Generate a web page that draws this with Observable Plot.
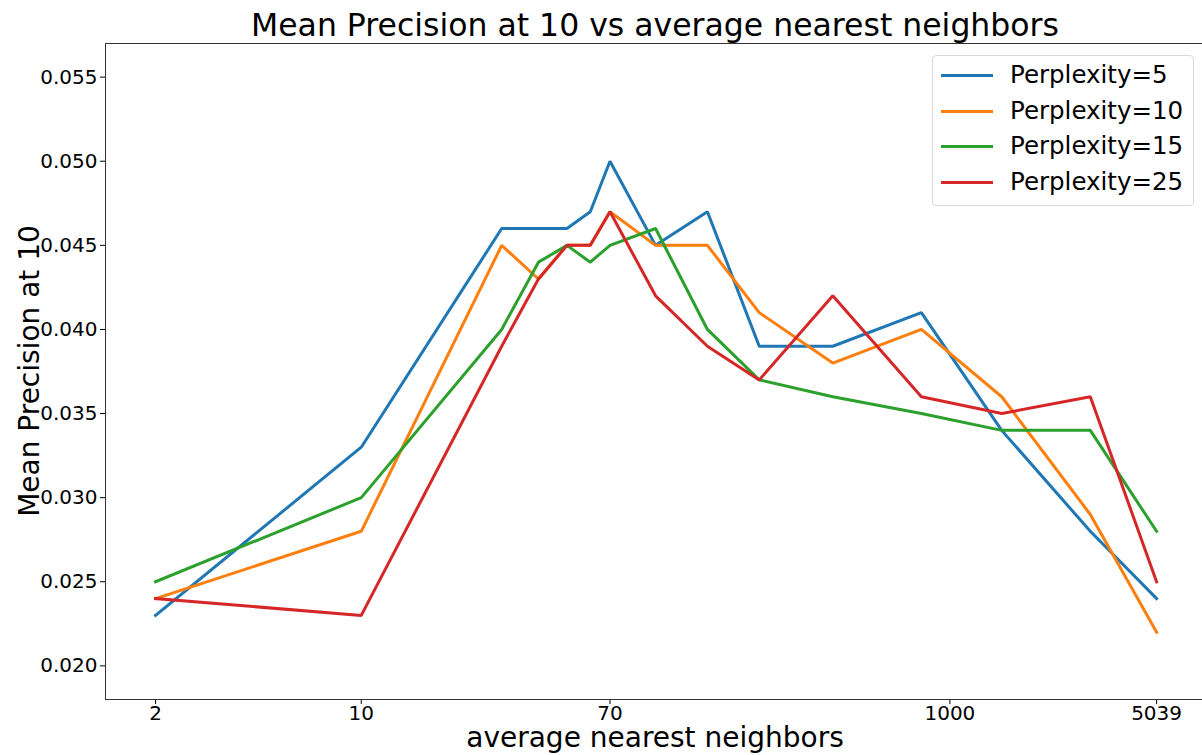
<!DOCTYPE html>
<html>
<head>
<meta charset="utf-8">
<script src="https://cdn.jsdelivr.net/npm/d3@7"></script>
<script src="https://cdn.jsdelivr.net/npm/@observablehq/plot@0.6"></script>
<style>
  html, body { margin: 0; padding: 0; background: #fff; }
  #wrap { position: relative; width: 1202px; height: 755px; font-family: "DejaVu Sans", sans-serif; overflow: hidden; }
  .ov { position: absolute; white-space: nowrap; color: #000; }
  #legend { position: absolute; left: 932px; top: 55px; width: 260px; height: 149px; border: 1px solid #d9d9d9; border-radius: 4px; background: rgba(255,255,255,0.85); }
  .lrow { position: absolute; left: 0; height: 30px; }
  .lline { position: absolute; left: 8px; width: 52px; height: 3px; top: 14px; }
  .ltext { position: absolute; left: 77px; top: 0; font-size: 24.5px; line-height: 30px; }
</style>
</head>
<body>
<div id="wrap"></div>
<script>
const neighbors = [2, 10, 30, 40, 50, 60, 70, 100, 150, 225, 400, 800, 1500, 3000, 5039];
const perp5  = [0.023, 0.033, 0.046, 0.046, 0.046, 0.047, 0.050, 0.045, 0.047, 0.039, 0.039, 0.041, 0.034, 0.028, 0.024];
const perp10 = [0.024, 0.028, 0.045, 0.043, 0.045, 0.045, 0.047, 0.045, 0.045, 0.041, 0.038, 0.040, 0.036, 0.029, 0.022];
const perp15 = [0.025, 0.030, 0.040, 0.044, 0.045, 0.044, 0.045, 0.046, 0.040, 0.037, 0.036, 0.035, 0.034, 0.034, 0.028];
const perp25 = [0.024, 0.023, 0.039, 0.043, 0.045, 0.045, 0.047, 0.042, 0.039, 0.037, 0.042, 0.036, 0.035, 0.036, 0.025];
const seriesNames = ["Perplexity=5", "Perplexity=10", "Perplexity=15", "Perplexity=25"];
const seriesValues = [perp5, perp10, perp15, perp25];
const colors = ["#1f77b4", "#ff7f0e", "#2ca02c", "#d62728"];
const xTicks = [2, 10, 70, 1000, 5039];
const xTickLabels = ["2", "10", "70", "1000", "5039"];
const yTicks = [0.020, 0.025, 0.030, 0.035, 0.040, 0.045, 0.050, 0.055];

const data = [];
seriesNames.forEach((name, i) => {
  neighbors.forEach((n, j) => data.push({series: name, x: n, y: seriesValues[i][j]}));
});
const xTickData = xTicks.map((t, i) => ({x: t, label: xTickLabels[i]}));

const chart = Plot.plot({
  width: 1202,
  height: 755,
  marginTop: 43,
  marginBottom: 56,
  marginLeft: 105,
  marginRight: 0,
  style: {fontFamily: "DejaVu Sans, sans-serif", fontSize: "20px", color: "#000", background: "#fff"},
  x: {type: "log", domain: [1.352, 7216]},
  y: {domain: [0.018, 0.057]},
  color: {domain: seriesNames, range: colors},
  marks: [
    Plot.axisX({ticks: xTicks, tickFormat: () => "", tickSize: 5, label: null}),
    Plot.text(xTickData, {x: "x", text: "label", frameAnchor: "bottom", lineAnchor: "top", dy: 6, fontSize: 20, fill: "#000"}),
    Plot.axisY({ticks: yTicks, tickFormat: d3.format(".3f"), tickSize: 5, tickPadding: 3, label: null, fontSize: 20}),
    Plot.lineY(data, {x: "x", y: "y", z: "series", stroke: "series", strokeWidth: 3, strokeLinejoin: "miter", strokeLinecap: "square"}),
    Plot.frame({stroke: "#333", strokeWidth: 1})
  ]
});

const wrap = document.getElementById("wrap");
chart.style.position = "absolute";
chart.style.left = "0px";
chart.style.top = "0px";
wrap.appendChild(chart);

function overlay(text, css) {
  const d = document.createElement("div");
  d.className = "ov";
  d.textContent = text;
  Object.assign(d.style, css);
  wrap.appendChild(d);
  return d;
}
overlay("Mean Precision at 10 vs average nearest neighbors", {left: "655px", top: "6px", fontSize: "31.5px", transform: "translateX(-50%)", lineHeight: "38px"});
overlay("average nearest neighbors", {left: "655px", top: "727px", fontSize: "28px", transform: "translateX(-50%)", lineHeight: "22px"});
overlay("Mean Precision at 10", {left: "30px", top: "371px", fontSize: "28px", transform: "translate(-50%,-50%) rotate(-90deg)", lineHeight: "36px"});

const legend = document.createElement("div");
legend.id = "legend";
seriesNames.forEach((name, i) => {
  const row = document.createElement("div");
  row.className = "lrow";
  row.style.top = (4 + i * 35.5) + "px";
  row.style.width = "100%";
  const ln = document.createElement("div");
  ln.className = "lline";
  ln.style.background = colors[i];
  const tx = document.createElement("div");
  tx.className = "ltext";
  tx.textContent = name;
  row.appendChild(ln);
  row.appendChild(tx);
  legend.appendChild(row);
});
wrap.appendChild(legend);
</script>
</body>
</html>
